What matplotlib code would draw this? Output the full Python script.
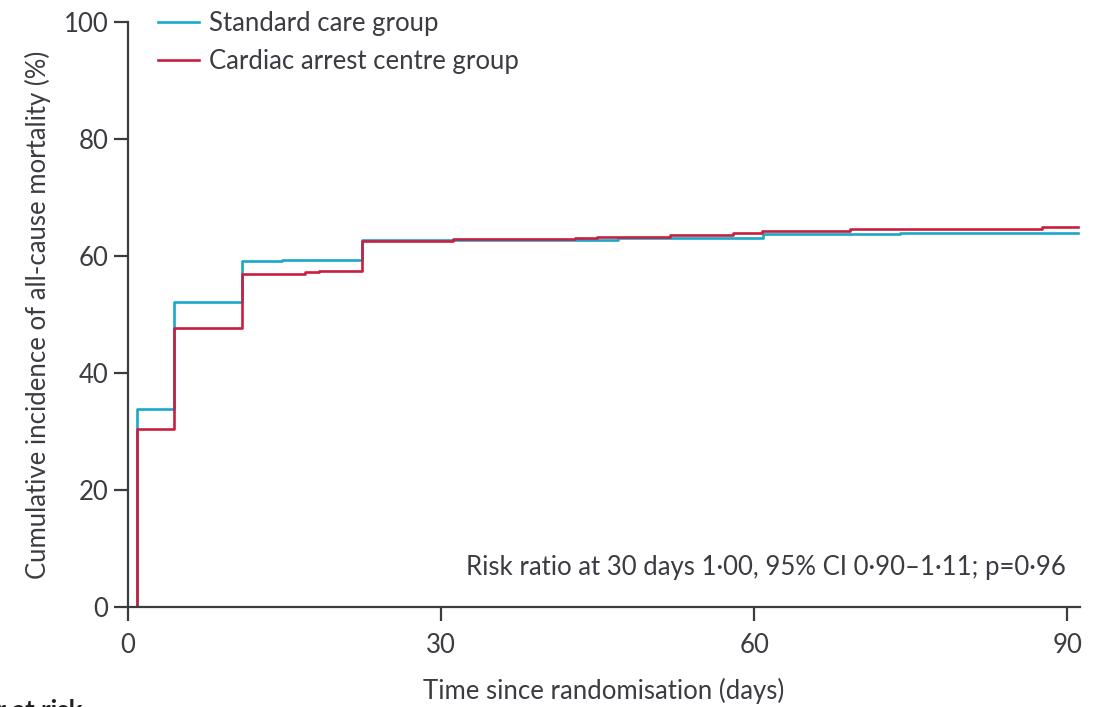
import matplotlib.pyplot as plt
import numpy as np

plt.rcParams['font.family'] = ['Lato', 'DejaVu Sans']

# step points: (day, cumulative incidence %)
standard_days = [0, 0.9, 4.4, 10.9, 14.8, 22.4, 46.9, 60.8, 74.0, 91.0]
standard_pct = [0, 33.8, 52.2, 59.1, 59.4, 62.7, 63.0, 63.7, 63.9, 63.9]

centre_days = [0, 0.9, 4.4, 10.9, 17.0, 18.3, 22.4, 31.1, 42.8, 44.9, 51.9, 58.0, 60.7, 69.2, 87.6, 91.0]
centre_pct = [0, 30.5, 47.7, 56.9, 57.2, 57.5, 62.6, 62.9, 63.1, 63.3, 63.6, 63.9, 64.3, 64.6, 64.9, 64.9]

x_ticks = [0, 30, 60, 90]
y_ticks = [0, 20, 40, 60, 80, 100]

blue = '#1aa8c8'
red = '#c81f3f'
axis_col = '#3b3b42'
fs = 18.5

fig = plt.figure(figsize=(11.07, 7.07), dpi=100)
ax = fig.add_axes([128/1107, 1 - 607/707, (1080 - 128)/1107, (607 - 22)/707])

ax.plot(standard_days, standard_pct, drawstyle='steps-post', color=blue, lw=1.9,
        label='Standard care group')
ax.plot(centre_days, centre_pct, drawstyle='steps-post', color=red, lw=1.9,
        label='Cardiac arrest centre group')

ax.set_xlim(0, 91.2)
ax.set_ylim(0, 100)
ax.set_xticks(x_ticks)
ax.set_yticks(y_ticks)
ax.tick_params(direction='out', length=10, width=1.6, color=axis_col,
               labelcolor=axis_col, labelsize=fs, pad=4)
ax.tick_params(axis='x', pad=9)
for s in ['top', 'right']:
    ax.spines[s].set_visible(False)
for s in ['left', 'bottom']:
    ax.spines[s].set_color(axis_col)
    ax.spines[s].set_linewidth(1.6)

ax.set_xlabel('Time since randomisation (days)', fontsize=fs, color=axis_col, labelpad=14)
ax.set_ylabel('Cumulative incidence of all-cause mortality (%)', fontsize=fs,
              color=axis_col, labelpad=9)

leg = ax.legend(loc='upper left', bbox_to_anchor=(0.031, 1.018), frameon=False,
                fontsize=fs, handlelength=1.6, handletextpad=0.4,
                labelspacing=0.48, borderpad=0, borderaxespad=0)
for t in leg.get_texts():
    t.set_color(axis_col)

ax.text(89.8, 6.8, 'Risk ratio at 30 days 1·00, 95% CI 0·90–1·11; p=0·96',
        ha='right', va='center', fontsize=fs, color=axis_col)

fig.text(82/1107, 1 - 699/707, 'Number at risk', ha='right', va='top',
         fontsize=fs, fontweight='bold', color='#222222')

fig.savefig('out.png', dpi=100)
